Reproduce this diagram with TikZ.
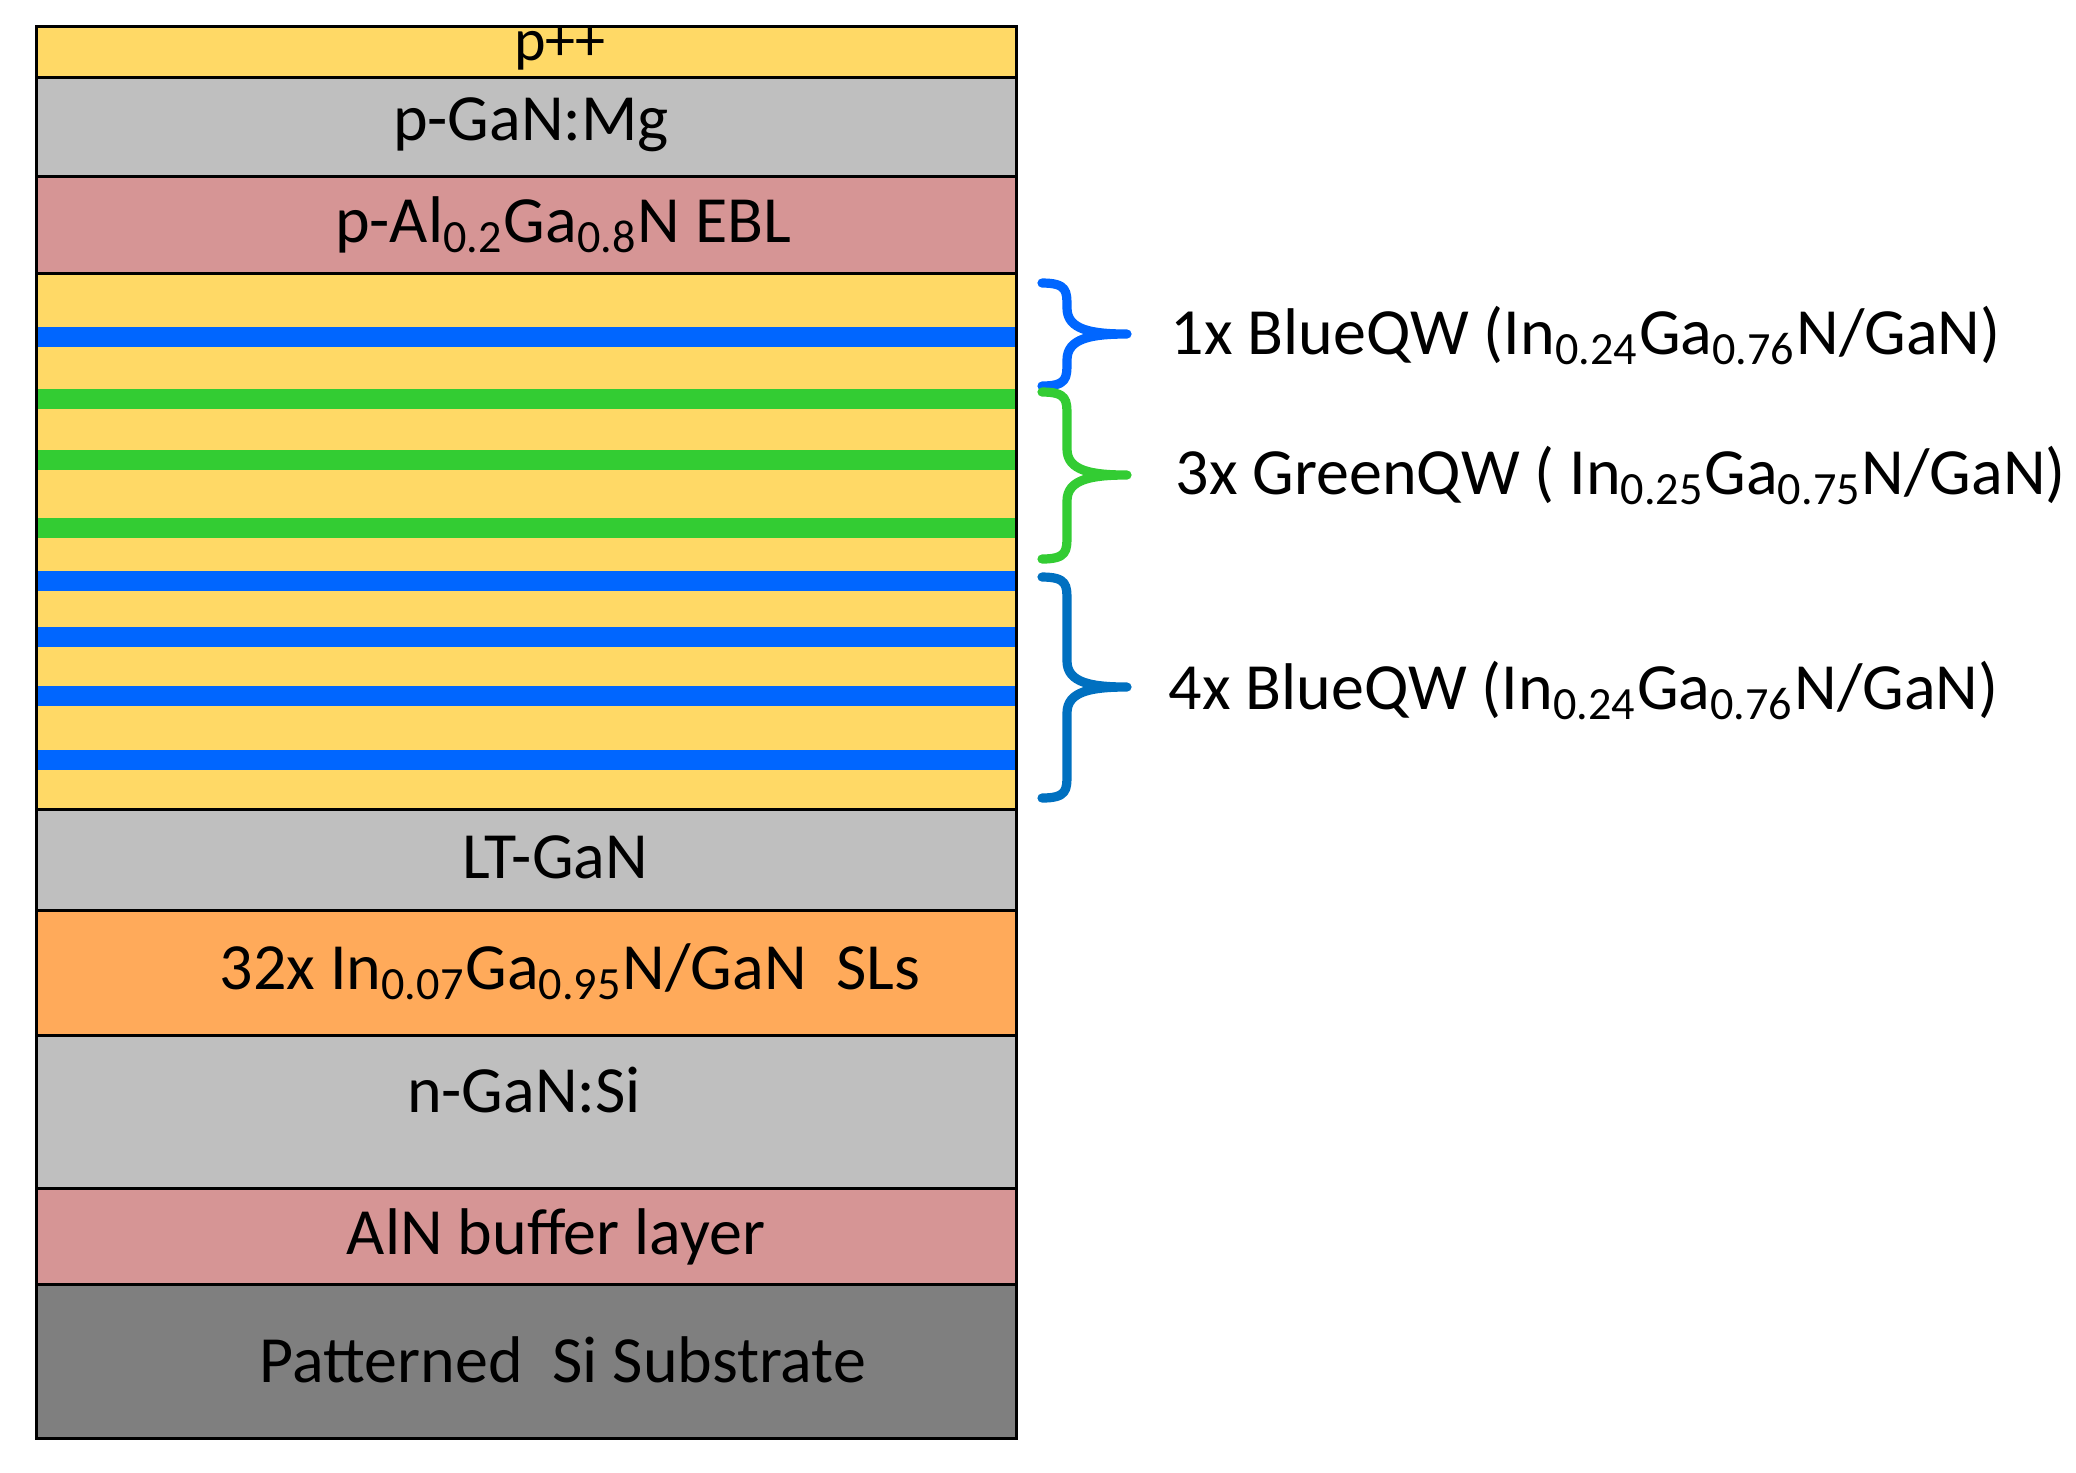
\documentclass[tikz,border=0pt]{standalone}
\usepackage{fontspec}
\setmainfont{Carlito}
\usetikzlibrary{calc}
\definecolor{qwgold}{HTML}{FFD966}
\definecolor{gangrey}{HTML}{BFBFBF}
\definecolor{alrose}{HTML}{D69595}
\definecolor{slorange}{HTML}{FFAA5A}
\definecolor{sigrey}{HTML}{7F7F7F}
\definecolor{qwblue}{HTML}{0066FF}
\definecolor{qwgreen}{HTML}{33CC33}
\definecolor{brblue}{HTML}{0070C0}
\tikzset{
  layer/.style={draw=black,line width=0.75pt},
  lbl/.style={font=\fontsize{16.5}{20}\selectfont,inner sep=0pt,anchor=base},
  side/.style={font=\fontsize{16.5}{20}\selectfont,inner sep=0pt,anchor=base west},
  br/.style={line width=2.3pt,line cap=round,line join=round},
}
% curly brace: colour, top, tip, bottom
\newcommand{\qwbrace}[4]{%
  \draw[br,#1] (1042,#2) .. controls (1067,#2) and (1067,#2+8) .. (1067,#2+24)
    -- (1067,#3-26) .. controls (1067,#3-4) and (1092,#3) .. (1127,#3)
    .. controls (1092,#3) and (1067,#3+4) .. (1067,#3+26)
    -- (1067,#4-24) .. controls (1067,#4-8) and (1067,#4) .. (1042,#4);}

\begin{document}
\begin{tikzpicture}[x=0.25pt,y=-0.25pt]
\useasboundingbox (0,0) rectangle (2076,1472);

% layer stack, top to bottom
\foreach \ya/\yb/\c in {26/77/qwgold,77/176/gangrey,176/273/alrose,273/809/qwgold,
    809/910/gangrey,910/1035/slorange,1035/1188/gangrey,1188/1284/alrose,1284/1438/sigrey}
  \filldraw[layer,fill=\c] (36,\ya) rectangle (1016,\yb);

% quantum wells
\foreach \y/\c in {337/qwblue,399/qwgreen,460/qwgreen,528/qwgreen,
    581/qwblue,637/qwblue,696/qwblue,760/qwblue}
  \fill[\c] (36,\y-10) rectangle (1016,\y+10);
\draw[layer] (36,26) rectangle (1016,1438);

\node[lbl,font=\fontsize{15}{18}\selectfont] (ppp) at (560,60) {p++};
\node[lbl] (pgan) at (531,140) {p-GaN:Mg};
\node[lbl] (ebl) at (563,242) {p-Al\textsubscript{0.2}Ga\textsubscript{0.8}N EBL};
\node[lbl] (ltgan) at (555,878) {LT-GaN};
\node[lbl] (sls) at (570,989) {32x In\textsubscript{0.07}Ga\textsubscript{0.95}N/GaN\hspace{0.45em}SLs};
\node[lbl] (ngan) at (524,1112) {n-GaN:Si};
\node[lbl] (aln) at (556,1254) {AlN buffer layer};
\node[lbl] (sub) at (563,1382) {Patterned\hspace{0.45em}Si Substrate};

% braces and well labels
\qwbrace{qwblue}{283}{334}{386}
\qwbrace{qwgreen}{392}{475}{559}
\qwbrace{brblue}{577}{687}{798}

\node[side] (qwtop) at (1170,354) {1x BlueQW (In\textsubscript{0.24}Ga\textsubscript{0.76}N/GaN)};
\node[side] (qwgr) at (1175,494) {3x GreenQW ( In\textsubscript{0.25}Ga\textsubscript{0.75}N/GaN)};
\node[side] (qwbot) at (1168,709) {4x BlueQW (In\textsubscript{0.24}Ga\textsubscript{0.76}N/GaN)};
\end{tikzpicture}
\end{document}
